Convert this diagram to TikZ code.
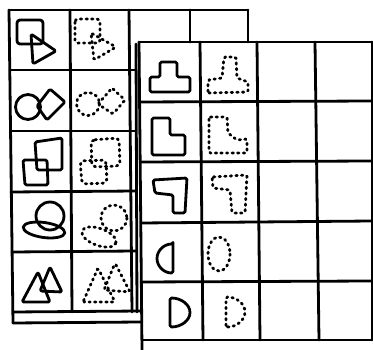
\documentclass[tikz,border=0pt]{standalone}
\begin{document}
\begin{tikzpicture}[x=1pt,y=-1pt,
  gridline/.style={line width=2.8pt,line cap=round},
  solidshape/.style={line width=2.8pt,line join=round,rounded corners=1.5pt},
  dotshape/.style={line width=2.8pt,line cap=round,dash pattern=on 1.4pt off 4.2pt,rounded corners=1.5pt}]
\useasboundingbox (0,0) rectangle (373,350);
% ---------- back sheet ----------
\draw[gridline] (9,10) -- (248,10);
\draw[gridline] (9,10) -- (13,323);
\draw[gridline] (248,10) -- (248,42);
\draw[gridline] (70,10) -- (72,312);
\draw[gridline] (129,10) -- (132,312);
\draw[gridline] (190,10) -- (190,42);
\draw[gridline] (10,70) -- (136,70);
\draw[gridline] (11,131) -- (136,131);
\draw[gridline] (11,192) -- (136,191);
\draw[gridline] (12,252) -- (136,251);
\draw[gridline] (136,44) -- (137,312);
\draw[gridline] (13,312) -- (141,311);
\draw[gridline] (13,323) -- (141,322);
% ---------- front sheet ----------
\draw[gridline] (139,42) -- (372,42);
\draw[gridline] (139,42) -- (142,350);
\draw[gridline] (372,42) -- (372,340);
\draw[gridline] (200,42) -- (203,340);
\draw[gridline] (257,42) -- (260,340);
\draw[gridline] (315,42) -- (319,340);
\draw[gridline] (140,102) -- (372,101);
\draw[gridline] (140,162) -- (372,161);
\draw[gridline] (141,223) -- (372,221);
\draw[gridline] (141,282) -- (372,281);
\draw[gridline] (142,340) -- (372,340);
% ---------- back sheet shapes ----------
% row 1
\draw[solidshape,rounded corners=3pt] (17,20) rectangle (43,44);
\draw[solidshape] (31,34) -- (56,51) -- (33,64) -- cycle;
\draw[dotshape,rounded corners=3pt] (75,19) rectangle (100,43);
\draw[dotshape] (91,33) -- (116,47) -- (94,60) -- cycle;
% row 2
\draw[solidshape] (28,107) circle[radius=12.5];
\draw[solidshape] (50,89) -- (65,102) -- (47,120) -- (37,106) -- cycle;
\draw[dotshape] (88,104) circle[radius=11.5];
\draw[dotshape] (112,88) -- (125,100) -- (113,114) -- (98,104) -- cycle;
% row 3
\draw[solidshape] (35,142) -- (62,138) -- (62,170) -- (37,170) -- cycle;
\draw[solidshape] (23,160) -- (47,160) -- (48,185) -- (25,185) -- cycle;
\draw[dotshape,rounded corners=4pt] (91,140) -- (119,138) -- (120,166) -- (92,167) -- cycle;
\draw[dotshape,rounded corners=4pt] (80,161) -- (106,160) -- (107,183) -- (82,184) -- cycle;
% row 4
\draw[solidshape] (50,216) circle[radius=14];
\draw[solidshape] (44,230) ellipse[x radius=21,y radius=7.5,rotate=-8];
\draw[dotshape] (114,218) circle[radius=13];
\draw[dotshape] (99,237) ellipse[x radius=18,y radius=8.5,rotate=-20];
% row 5
\draw[solidshape] (22,302) -- (38,272) -- (50,302) -- cycle;
\draw[solidshape] (40,291) -- (50,267) -- (62,292) -- cycle;
\draw[dotshape] (83,302) -- (98,268) -- (115,302) -- cycle;
\draw[dotshape] (104,290) -- (115,263) -- (130,292) -- cycle;
% ---------- front sheet shapes ----------
% row 1: T
\draw[solidshape] (150,77) -- (160,77) -- (160,62) -- (177,62) -- (177,77) -- (190,77) -- (190,92) -- (150,92) -- cycle;
\draw[dotshape] (208,93) -- (208,80) -- (222,78) -- (224,57) -- (236,57) -- (237,78) -- (248,82) -- (248,92) -- cycle;
% row 2: L
\draw[solidshape] (152,118) -- (152,155) -- (185,155) -- (185,135) -- (170,135) -- (170,118) -- cycle;
\draw[dotshape] (209,117) -- (227,117) -- (228,133) -- (237,140) -- (247,139) -- (247,153) -- (209,153) -- cycle;
% row 3: hook
\draw[solidshape] (153,180) -- (187,178) -- (185,213) -- (173,213) -- (173,195) -- (155,193) -- cycle;
\draw[dotshape] (212,177) -- (247,175) -- (245,213) -- (232,213) -- (230,190) -- (213,188) -- cycle;
% row 4: half disc
\draw[solidshape] (173,244) -- (173,273) arc[start angle=-90,end angle=-270,x radius=16pt,y radius=14.5pt] -- cycle;
\draw[dotshape] (219,254) ellipse[x radius=11,y radius=17];
% row 5: D
\draw[solidshape] (170,327) -- (170,298) arc[start angle=90,end angle=-90,x radius=20pt,y radius=14.5pt] -- cycle;
\draw[dotshape] (226,327) -- (226,297) arc[start angle=90,end angle=-90,x radius=19pt,y radius=15pt] -- cycle;
\end{tikzpicture}
\end{document}
